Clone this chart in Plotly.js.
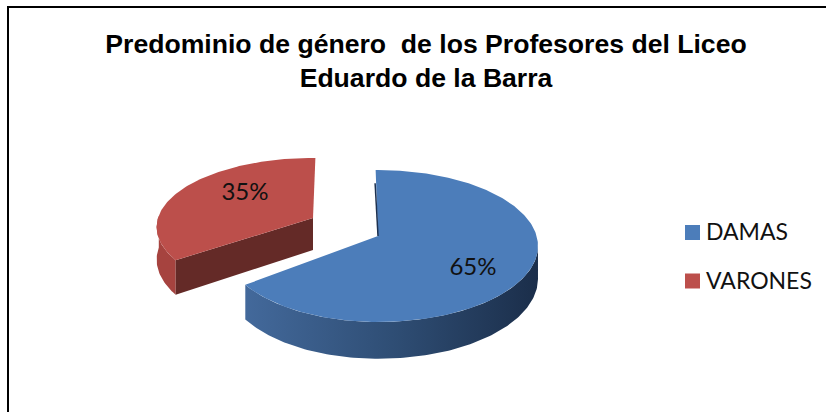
<!DOCTYPE html>
<html>
<head>
<meta charset="utf-8">
<script src="https://cdn.plot.ly/plotly-3.0.1.min.js"></script>
<style>html,body{margin:0;padding:0;background:#fff}</style>
</head>
<body>
<div id="chart" style="width:826px;height:412px"></div>
<script>
var categories = ['DAMAS', 'VARONES'];
var values = [65, 35];
var chartTitle = 'Predominio de género\u00a0 de los Profesores del Liceo<br>Eduardo de la Barra';

// look of each slice, the geometry is worked out from values
var topColors = ['#4c7dba', '#bc4f4b'];
var cutColors = ['#1d3150', '#642a27'];
var wallColors = [
    [[0, '#43699b'], [0.5, '#2f4e75'], [1, '#1b2e4a']],
    [[0, '#a6433f'], [1, '#a6433f']]
];
var apexX = [378, 313];
var apexY = [236, 218];
var radXLeft = [153, 155];
var radXRight = [158.6, 155];
var radY = [74.7, 68];
var depth = [32, 32];
var rotation = [-1, 1];
var labelX = [473, 245];
var labelY = [269, 194];
var legendX = 692.5;
var legendY = [232.5, 281];
var legendTextX = 706;
var legendTextY = [234, 283];
var persp = 0.1316;

function pt(i, deg, r) {
    var th = deg * Math.PI / 180;
    var t = -Math.cos(th);
    var s = 1 / (1 - persp * t);
    var sn = Math.sin(th);
    return {
        x: apexX[i] + (sn < 0 ? radXLeft[i] : radXRight[i]) * r * sn * s,
        y: apexY[i] + radY[i] * r * t * s,
        d: depth[i] * s
    };
}

function arc(i, from, to) {
    var out = [];
    var n = Math.ceil(Math.abs(to - from));
    for (var k = 0; k <= n; k++) out.push(pt(i, from + (to - from) * k / n, 1));
    return out;
}

function poly(xs, ys, color, gradient) {
    var tr = {
        type: 'scatter', mode: 'lines', x: xs, y: ys, fill: 'toself',
        line: {width: 0}, hoverinfo: 'skip', showlegend: false
    };
    if (gradient) tr.fillgradient = {type: 'horizontal', colorscale: gradient};
    else tr.fillcolor = color;
    return tr;
}

// outer wall: top rim and the same rim pushed down by the depth
function wall(i, from, to) {
    var a = arc(i, from, to);
    var xs = [], ys = [];
    a.forEach(function (p) { xs.push(p.x); ys.push(p.y); });
    a.reverse().forEach(function (p) { xs.push(p.x); ys.push(p.y + p.d); });
    return poly(xs, ys, null, wallColors[i]);
}

function cutFace(i, deg) {
    var p = pt(i, deg, 1);
    var d = depth[i];
    return poly(
        [apexX[i], p.x, p.x, apexX[i]],
        [apexY[i], p.y, p.y + p.d, apexY[i] + d],
        cutColors[i]
    );
}

function topFace(i, from, to) {
    var a = arc(i, from, to);
    var xs = [apexX[i]], ys = [apexY[i]];
    a.forEach(function (p) { xs.push(p.x); ys.push(p.y); });
    return poly(xs, ys, topColors[i]);
}

var total = values[0] + values[1];
var sweep = values[0] / total * 360;
var traces = [];

// VARONES is pulled out and sits behind
var redFrom = sweep + rotation[1];
var redTo = 360 + rotation[1];
traces.push(wall(1, redFrom, 272));
traces.push(cutFace(1, redFrom));
traces.push(topFace(1, redFrom, redTo));

// DAMAS
var blueFrom = rotation[0];
var blueTo = sweep + rotation[0];
traces.push(wall(0, 97, blueTo));
traces.push(topFace(0, blueFrom, blueTo));
var edge = pt(0, blueFrom, 0.8);
traces.push({
    type: 'scatter', mode: 'lines', x: [apexX[0], edge.x - 1], y: [apexY[0], edge.y],
    line: {color: cutColors[0], width: 1.5}, hoverinfo: 'skip', showlegend: false
});

// percent labels
traces.push({
    type: 'scatter', mode: 'text', x: labelX, y: labelY,
    text: values.map(function (v) { return v + '%'; }),
    textposition: 'middle center',
    textfont: {family: 'Lato, sans-serif', size: 24, color: '#111'},
    hoverinfo: 'skip', showlegend: false
});

// legend
categories.forEach(function (c, i) {
    traces.push({
        type: 'scatter', mode: 'markers', x: [legendX], y: [legendY[i]],
        marker: {symbol: 'square', size: 15, color: topColors[i]},
        hoverinfo: 'skip', showlegend: false
    });
    traces.push({
        type: 'scatter', mode: 'text', x: [legendTextX], y: [legendTextY[i]],
        text: [c], textposition: 'middle right',
        textfont: {family: 'Lato, sans-serif', size: 23, color: '#111'},
        cliponaxis: false, hoverinfo: 'skip', showlegend: false
    });
});

var layout = {
    width: 826, height: 412,
    margin: {l: 0, r: 0, t: 0, b: 0},
    paper_bgcolor: '#fff', plot_bgcolor: '#fff',
    showlegend: false,
    title: {
        text: chartTitle,
        font: {family: 'Liberation Sans, Arial, sans-serif', size: 26.6, color: '#000', weight: 700},
        x: 426 / 826, xanchor: 'center', y: 0.872, yanchor: 'middle'
    },
    xaxis: {range: [0, 826], visible: false, fixedrange: true},
    yaxis: {range: [412, 0], visible: false, fixedrange: true},
    shapes: [
        {type: 'line', xref: 'x', yref: 'y', x0: 8, y0: 7, x1: 826, y1: 7, line: {color: '#000', width: 2}},
        {type: 'line', xref: 'x', yref: 'y', x0: 8, y0: 6, x1: 8, y1: 412, line: {color: '#000', width: 2}}
    ]
};

Plotly.newPlot('chart', traces, layout, {displayModeBar: false, staticPlot: true});
</script>
</body>
</html>
